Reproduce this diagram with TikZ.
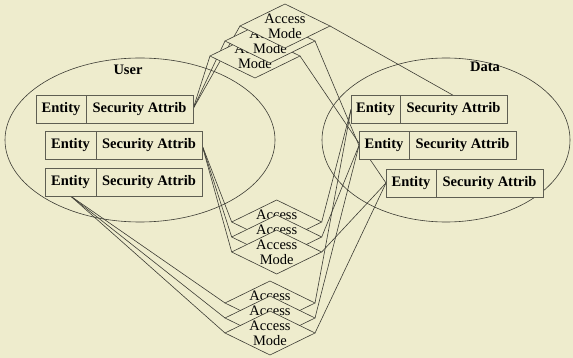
\documentclass[tikz,border=0pt]{standalone}
\usepackage{fontspec}
\setmainfont{Liberation Serif}
\usetikzlibrary{shapes.geometric}
\definecolor{paper}{HTML}{EEECCD}
\definecolor{ink}{HTML}{3C3C34}
\definecolor{rim}{HTML}{5E5E52}
\pgfdeclarelayer{back}
\pgfsetlayers{back,main}
\tikzset{
  txt/.style={font=\fontsize{14.5}{15}\selectfont},
  cell/.style={txt, font=\fontsize{14.5}{15}\selectfont\bfseries, rectangle, draw=rim, line width=0.9pt,
    fill=paper, minimum height=28pt, inner sep=0pt, outer sep=0pt, anchor=west},
  modebox/.style={diamond, draw=ink, line width=0.6pt, fill=paper,
    minimum width=90pt, minimum height=44pt, inner sep=0pt, outer sep=0pt},
  modetext/.style={txt, align=center, inner sep=0pt},
  link/.style={draw=ink, line width=0.6pt},
  heading/.style={font=\fontsize{14.5}{15}\selectfont\bfseries}
}
\begin{document}
\begin{tikzpicture}[x=1pt,y=-1pt]
\begin{pgfonlayer}{back}
  \path[use as bounding box, fill=paper] (0,0) rectangle (573,358);
\end{pgfonlayer}

% headings
\node[heading] (user) at (128,70) {User};
\node[heading] (data) at (485,67) {Data};

% user entities
\node[cell, minimum width=50pt]  (uE1) at (36,109) {Entity};
\node[cell, minimum width=107pt] (uA1) at (uE1.east) {Security Attrib};
\node[cell, minimum width=51pt]  (uE2) at (45,145) {Entity};
\node[cell, minimum width=106pt] (uA2) at (uE2.east) {Security Attrib};
\node[cell, minimum width=51pt]  (uE3) at (45,182) {Entity};
\node[cell, minimum width=106pt] (uA3) at (uE3.east) {Security Attrib};

% data entities
\node[cell, minimum width=49pt]  (rE1) at (351,109.5) {Entity};
\node[cell, minimum width=107pt] (rA1) at (rE1.east) {Security Attrib};
\node[cell, minimum width=50pt]  (rE2) at (359,145.5) {Entity};
\node[cell, minimum width=107pt] (rA2) at (rE2.east) {Security Attrib};
\node[cell, minimum width=50pt]  (rE3) at (386,183) {Entity};
\node[cell, minimum width=107pt] (rA3) at (rE3.east) {Security Attrib};

% access modes of the first user entity (front one drawn last)
\node[modebox] (t3) at (255,56) {};
\node[modetext] at (t3) {Access\\Mode};
\node[modebox] (t2) at (270,41) {};
\node[modetext] at (t2) {Access\\Mode};
\node[modebox] (t1) at (285,26) {};
\node[modetext] at (t1) {Access\\Mode};

% access modes of the second user entity
\node[modebox] (m1) at (276.7,222) {};
\node[modetext] at (m1) {Access\\Mode};
\node[modebox] (m2) at (276.7,237) {};
\node[modetext] at (m2) {Access\\Mode};
\node[modebox] (m3) at (276.7,252) {};
\node[modetext] at (m3) {Access\\Mode};

% access modes of the third user entity
\node[modebox] (b1) at (270,303) {};
\node[modetext] at (b1) {Access\\Mode};
\node[modebox] (b2) at (270,318) {};
\node[modetext] at (b2) {Access\\Mode};
\node[modebox] (b3) at (270,333) {};
\node[modetext] at (b3) {Access\\Mode};

\begin{pgfonlayer}{back}
  % domains
  \draw[link] (140,140) ellipse [x radius=135, y radius=82];
  \draw[link] (446,140) ellipse [x radius=124, y radius=82];
  % user side
  \foreach \d in {t1,t2,t3} \draw[link] (uA1.east) -- (\d.west);
  \foreach \d in {m1,m2,m3} \draw[link] (uA2.east) -- (\d.west);
  \foreach \d in {b1,b2,b3} \draw[link] (uE3.south) -- (\d.west);
  % data side
  \draw[link] (t1.east) -- (rA1.north);
  \draw[link] (t2.east) -- (rE2.west);
  \draw[link] (t3.east) -- (rE3.west);
  \draw[link] (m1.east) -- (rE1.west);
  \draw[link] (m2.east) -- (rE2.west);
  \draw[link] (m3.east) -- (rE3.west);
  \draw[link] (b1.east) -- (rE1.west);
  \draw[link] (b2.east) -- (rE2.west);
  \draw[link] (b3.east) -- (rE3.west);
\end{pgfonlayer}
\end{tikzpicture}
\end{document}
